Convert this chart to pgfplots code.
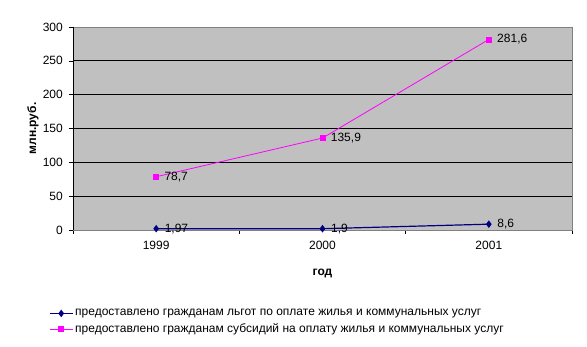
\documentclass[border=0pt]{standalone}
\usepackage{pgfplots}
\pgfplotsset{compat=1.18}
\usepackage{fontspec}
\setmainfont{Liberation Sans}
\definecolor{plotgray}{HTML}{C0C0C0}
\definecolor{bordergray}{HTML}{808080}
\definecolor{navyc}{HTML}{000080}
\definecolor{magc}{HTML}{FF00FF}
\begin{document}
\fontsize{12pt}{14pt}\selectfont
\begin{tikzpicture}[x=1pt,y=1pt]
\begin{axis}[at={(73pt,117pt)}, anchor=south west, scale only axis,
  width=499pt, height=203pt,
  xmin=-0.5, xmax=2.5, ymin=0, ymax=300,
  ytick={0,50,...,300},
  xtick={0,1,2}, xticklabels={1999,2000,2001},
  minor xtick={-0.5,0.5,1.5,2.5},
  major x tick style={draw=none},
  tick pos=left, tick align=outside,
  major tick length=4pt, minor tick length=4pt,
  every tick/.style={black},
  ymajorgrids, grid style={black, line width=0.8pt},
  axis background/.style={fill=plotgray},
  axis line style={bordergray},
  /pgf/number format/assume math mode=true,
  ticklabel style={font=\fontsize{12pt}{14pt}\selectfont},
  yticklabel style={xshift=-2pt},
  xticklabel style={yshift=-3pt},
  xlabel={\bfseries год}, ylabel={\bfseries млн.руб.},
  xlabel style={at={(axis description cs:0.5,-0.212)}, anchor=center, font=\fontsize{12pt}{14pt}\selectfont},
  ylabel style={at={(axis description cs:-0.080,0.5)}, anchor=center, font=\fontsize{12pt}{14pt}\selectfont},
  nodes near coords={\pgfplotspointmeta},
  point meta=explicit symbolic,
  every node near coord/.append style={anchor=west, xshift=4pt, black, font=\fontsize{12pt}{14pt}\selectfont},
  legend cell align=left,
  legend style={at={(axis description cs:-0.054,-0.37)}, anchor=north west, draw=none, fill=none,
    font=\fontsize{12pt}{14pt}\selectfont, row sep=2pt},
  legend image code/.code={\draw[mark repeat=2,mark phase=2] plot coordinates {(0cm,0cm) (0.4cm,0cm) (0.8cm,0cm)};},
]
\addplot[navyc, line width=1.2pt, mark=diamond*, mark size=2.8pt, mark options={fill=navyc}]
  table[meta=lab] {
x y lab
0 1.97 1,97
1 1.9 1,9
2 8.6 8,6
};
\addlegendentry{предоставлено гражданам льгот по оплате жилья и коммунальных услуг}
\addplot[magc, line width=0.8pt, mark=square*, mark size=2.5pt, mark options={fill=magc}]
  table[meta=lab] {
x y lab
0 78.7 78,7
1 135.9 135,9
2 281.6 281,6
};
\addlegendentry{предоставлено гражданам субсидий на оплату жилья и коммунальных услуг}
\draw[bordergray] (rel axis cs:0,1) -- (rel axis cs:1,1) -- (rel axis cs:1,0);
\draw[black] (rel axis cs:0,1) -- (rel axis cs:0,0) -- (rel axis cs:1,0);
\end{axis}
\pgfresetboundingbox
\path[use as bounding box] (0pt,0pt) rectangle (587pt,347pt);
\end{tikzpicture}
\end{document}
